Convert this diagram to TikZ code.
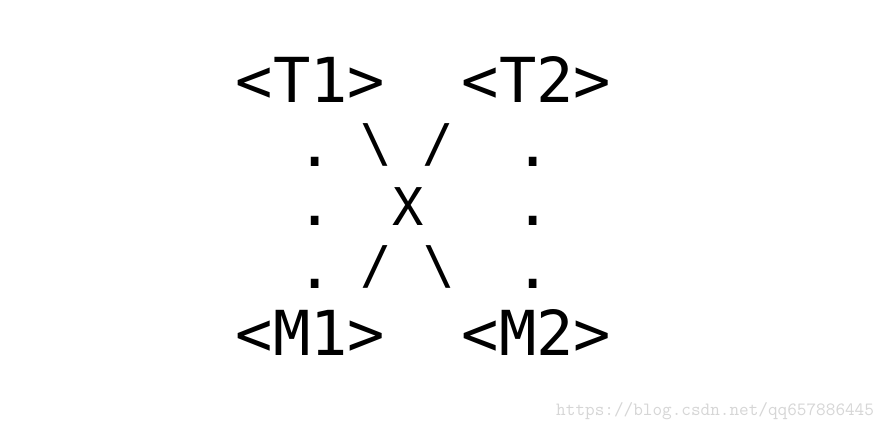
\documentclass[tikz,border=0pt]{standalone}
\usepackage{fontspec}
\newfontfamily\artfont{DejaVu Sans Mono}
\definecolor{wmgray}{RGB}{214,214,214}
\begin{document}
\begin{tikzpicture}[x=1pt,y=-1pt,
  art/.style={inner sep=0pt, outer sep=0pt, anchor=base, font=\artfont\fontsize{62}{62}\selectfont},
  artsmall/.style={inner sep=0pt, outer sep=0pt, anchor=base, font=\artfont\fontsize{52}{52}\selectfont},
  wm/.style={inner sep=0pt, outer sep=0pt, anchor=base east, text=wmgray, font=\ttfamily\fontsize{18.7}{18.7}\selectfont}]
\fill[white] (0,0) rectangle (888,431);
\useasboundingbox (0,0) rectangle (888,431);
% row 1
\node[art] (t1) at (310.5,102) {<T1>};
\node[art] (t2) at (536.5,102) {<T2>};
% row 2
\node[art] (d1a) at (315,166) {.};
\node[artsmall] (bs1) at (376.5,161.5) {\textbackslash};
\node[artsmall] (sl1) at (438.5,161.5) {/};
\node[art] (d2a) at (533,166) {.};
% row 3
\node[art] (d1b) at (315,225) {.};
\node[artsmall] (x) at (408,225) {X};
\node[art] (d2b) at (533,225) {.};
% row 4
\node[art] (d1c) at (315,288) {.};
\node[artsmall] (sl2) at (376,283.5) {/};
\node[artsmall] (bs2) at (439,283.5) {\textbackslash};
\node[art] (d2c) at (533,288) {.};
% row 5
\node[art] (m1) at (310.5,355) {<M1>};
\node[art] (m2) at (536.5,355) {<M2>};
% watermark
\node[wm] (wmk) at (874,415) {https://blog.csdn.net/qq657886445};
\end{tikzpicture}
\end{document}
